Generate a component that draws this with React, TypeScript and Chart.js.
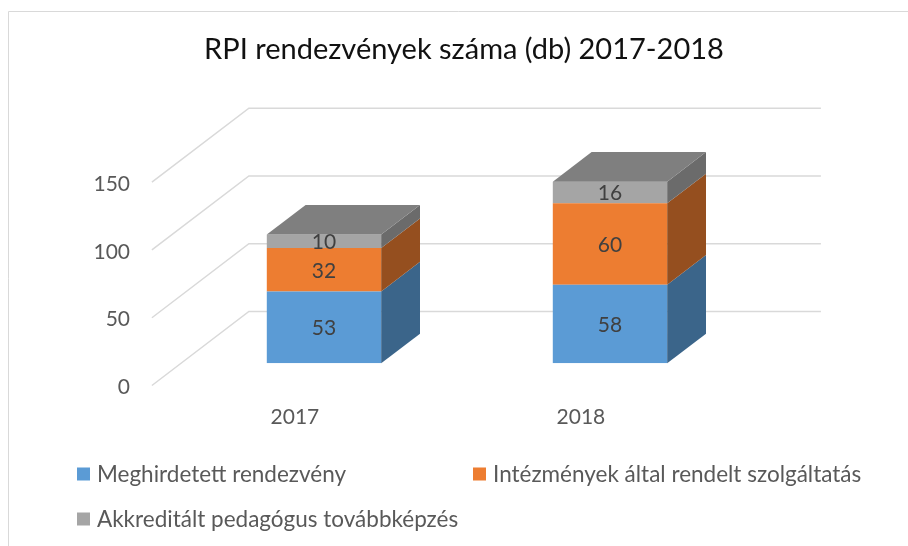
import React, { useEffect, useRef } from 'react';
import { Chart, registerables } from 'chart.js';

Chart.register(...registerables);

// ---- data ----
const categories = ['2017', '2018'];
const meghirdetett = [53, 58];
const intezmenyek = [32, 60];
const akkreditalt = [10, 16];
const seriesNames = [
  'Meghirdetett rendezvény',
  'Intézmények által rendelt szolgáltatás',
  'Akkreditált pedagógus továbbképzés',
];
const yTickValues = [0, 50, 100, 150];
const chartTitle = 'RPI rendezvények száma (db) 2017-2018';

// ---- style ----
const FONT = 'Lato';
const frontColors = ['#5B9BD5', '#ED7D31', '#A5A5A5'];
const sideColors = ['#3B658A', '#954F1F', '#6B6B6B'];
const topColors = ['#4A7DAA', '#BE6427', '#7F7F7F'];
const DEPTH_X = 97; // full floor depth offset
const DEPTH_Y = -74;
const BAR_PLANE = 0.3; // fraction of depth where bar front faces sit
const BAR_DEPTH = 0.4;

const threeDPlugin = {
  id: 'threeD',
  beforeDatasetsDraw(chart: any) {
    const { ctx, chartArea, scales } = chart;
    const y = scales.y;
    ctx.save();
    ctx.strokeStyle = '#d9d9d9';
    ctx.lineWidth = 1.5;
    y.ticks.forEach((t: any) => {
      const py = y.getPixelForValue(t.value);
      const fx = chartArea.left - BAR_PLANE * DEPTH_X;
      const fy = py - BAR_PLANE * DEPTH_Y;
      const bx = chartArea.left + (1 - BAR_PLANE) * DEPTH_X;
      const by = py + (1 - BAR_PLANE) * DEPTH_Y;
      const ex = chartArea.right + (1 - BAR_PLANE) * DEPTH_X;
      ctx.beginPath();
      ctx.moveTo(fx, fy);
      ctx.lineTo(bx, by);
      ctx.lineTo(ex, by);
      ctx.stroke();
    });
    ctx.restore();
  },
  afterDatasetsDraw(chart: any) {
    const { ctx } = chart;
    const dx = BAR_DEPTH * DEPTH_X;
    const dy = BAR_DEPTH * DEPTH_Y;
    const n = chart.data.datasets.length;
    ctx.save();
    for (let i = 0; i < n; i++) {
      const meta = chart.getDatasetMeta(i);
      meta.data.forEach((bar: any) => {
        const { x, y, base, width } = bar.getProps(['x', 'y', 'base', 'width'], true);
        const left = x - width / 2;
        const right = x + width / 2;
        // side face
        ctx.fillStyle = sideColors[i];
        ctx.beginPath();
        ctx.moveTo(right, y);
        ctx.lineTo(right + dx, y + dy);
        ctx.lineTo(right + dx, base + dy);
        ctx.lineTo(right, base);
        ctx.closePath();
        ctx.fill();
        if (i === n - 1) {
          ctx.fillStyle = topColors[i];
          ctx.beginPath();
          ctx.moveTo(left, y);
          ctx.lineTo(left + dx, y + dy);
          ctx.lineTo(right + dx, y + dy);
          ctx.lineTo(right, y);
          ctx.closePath();
          ctx.fill();
        }
      });
    }
    // data labels
    ctx.fillStyle = '#404040';
    ctx.font = `21px ${FONT}`;
    ctx.textAlign = 'center';
    ctx.textBaseline = 'middle';
    for (let i = 0; i < n; i++) {
      const meta = chart.getDatasetMeta(i);
      const data = chart.data.datasets[i].data;
      meta.data.forEach((bar: any, j: number) => {
        const { x, y, base } = bar.getProps(['x', 'y', 'base'], true);
        ctx.fillText(String(data[j]), x, (y + base) / 2 + 1);
      });
    }
    ctx.restore();
  },
  afterDraw(chart: any) {
    const { ctx } = chart;
    ctx.save();
    // frame
    ctx.strokeStyle = '#d9d9d9';
    ctx.lineWidth = 1;
    ctx.beginPath();
    ctx.moveTo(8.5, 546);
    ctx.lineTo(8.5, 11.5);
    ctx.lineTo(908, 11.5);
    ctx.stroke();
    // title
    ctx.fillStyle = '#111111';
    ctx.font = `29px ${FONT}`;
    ctx.textAlign = 'center';
    ctx.textBaseline = 'middle';
    ctx.fillText(chartTitle, 464, 50);
    // legend
    const pos = [
      [77, 474],
      [473, 474],
      [77, 519],
    ];
    ctx.font = `22.5px ${FONT}`;
    ctx.textAlign = 'left';
    chart.data.datasets.forEach((ds: any, i: number) => {
      const [lx, ly] = pos[i];
      ctx.fillStyle = ds.backgroundColor;
      ctx.fillRect(lx, ly - 6.5, 13, 13);
      ctx.fillStyle = '#595959';
      ctx.fillText(ds.label, lx + 20, ly + 1);
    });
    ctx.restore();
  },
};

export default function App() {
  const ref = useRef<HTMLCanvasElement>(null);
  useEffect(() => {
    if (!ref.current) return;
    const seriesData = [meghirdetett, intezmenyek, akkreditalt];
    const chart = new Chart(ref.current, {
      type: 'bar',
      data: {
        labels: categories,
        datasets: seriesData.map((d, i) => ({
          label: seriesNames[i],
          data: d,
          backgroundColor: frontColors[i],
          borderWidth: 0,
          categoryPercentage: 1,
          barPercentage: 0.4,
        })),
      },
      options: {
        responsive: false,
        animation: false,
        devicePixelRatio: 1,
        layout: { padding: { left: 0, right: 155, top: 160, bottom: 0 } },
        plugins: {
          legend: { display: false },
          title: { display: false },
          tooltip: { enabled: false },
        },
        scales: {
          x: {
            stacked: true,
            grid: { display: false, drawTicks: false },
            border: { display: false },
            ticks: {
              color: '#595959',
              font: { family: FONT, size: 21 },
              padding: 41,
              labelOffset: -BAR_PLANE * DEPTH_X,
            },
            afterFit: (s: any) => {
              s.height = 182.7;
            },
          },
          y: {
            stacked: true,
            min: 0,
            max: 150,
            grid: { display: false, drawTicks: false },
            border: { display: false },
            afterBuildTicks: (s: any) => {
              s.ticks = yTickValues.map((v) => ({ value: v }));
            },
            ticks: {
              color: '#595959',
              font: { family: FONT, size: 21 },
              padding: 51,
              labelOffset: -BAR_PLANE * DEPTH_Y + 2,
            },
            afterFit: (s: any) => {
              s.width = 181;
            },
          },
        },
      },
      plugins: [threeDPlugin],
    });
    return () => chart.destroy();
  }, []);
  return (
    <div style={{ position: 'fixed', left: 0, top: 0, width: 908, height: 546, background: '#fff' }}>
      <canvas ref={ref} width={908} height={546} style={{ width: 908, height: 546, display: 'block' }} />
    </div>
  );
}
